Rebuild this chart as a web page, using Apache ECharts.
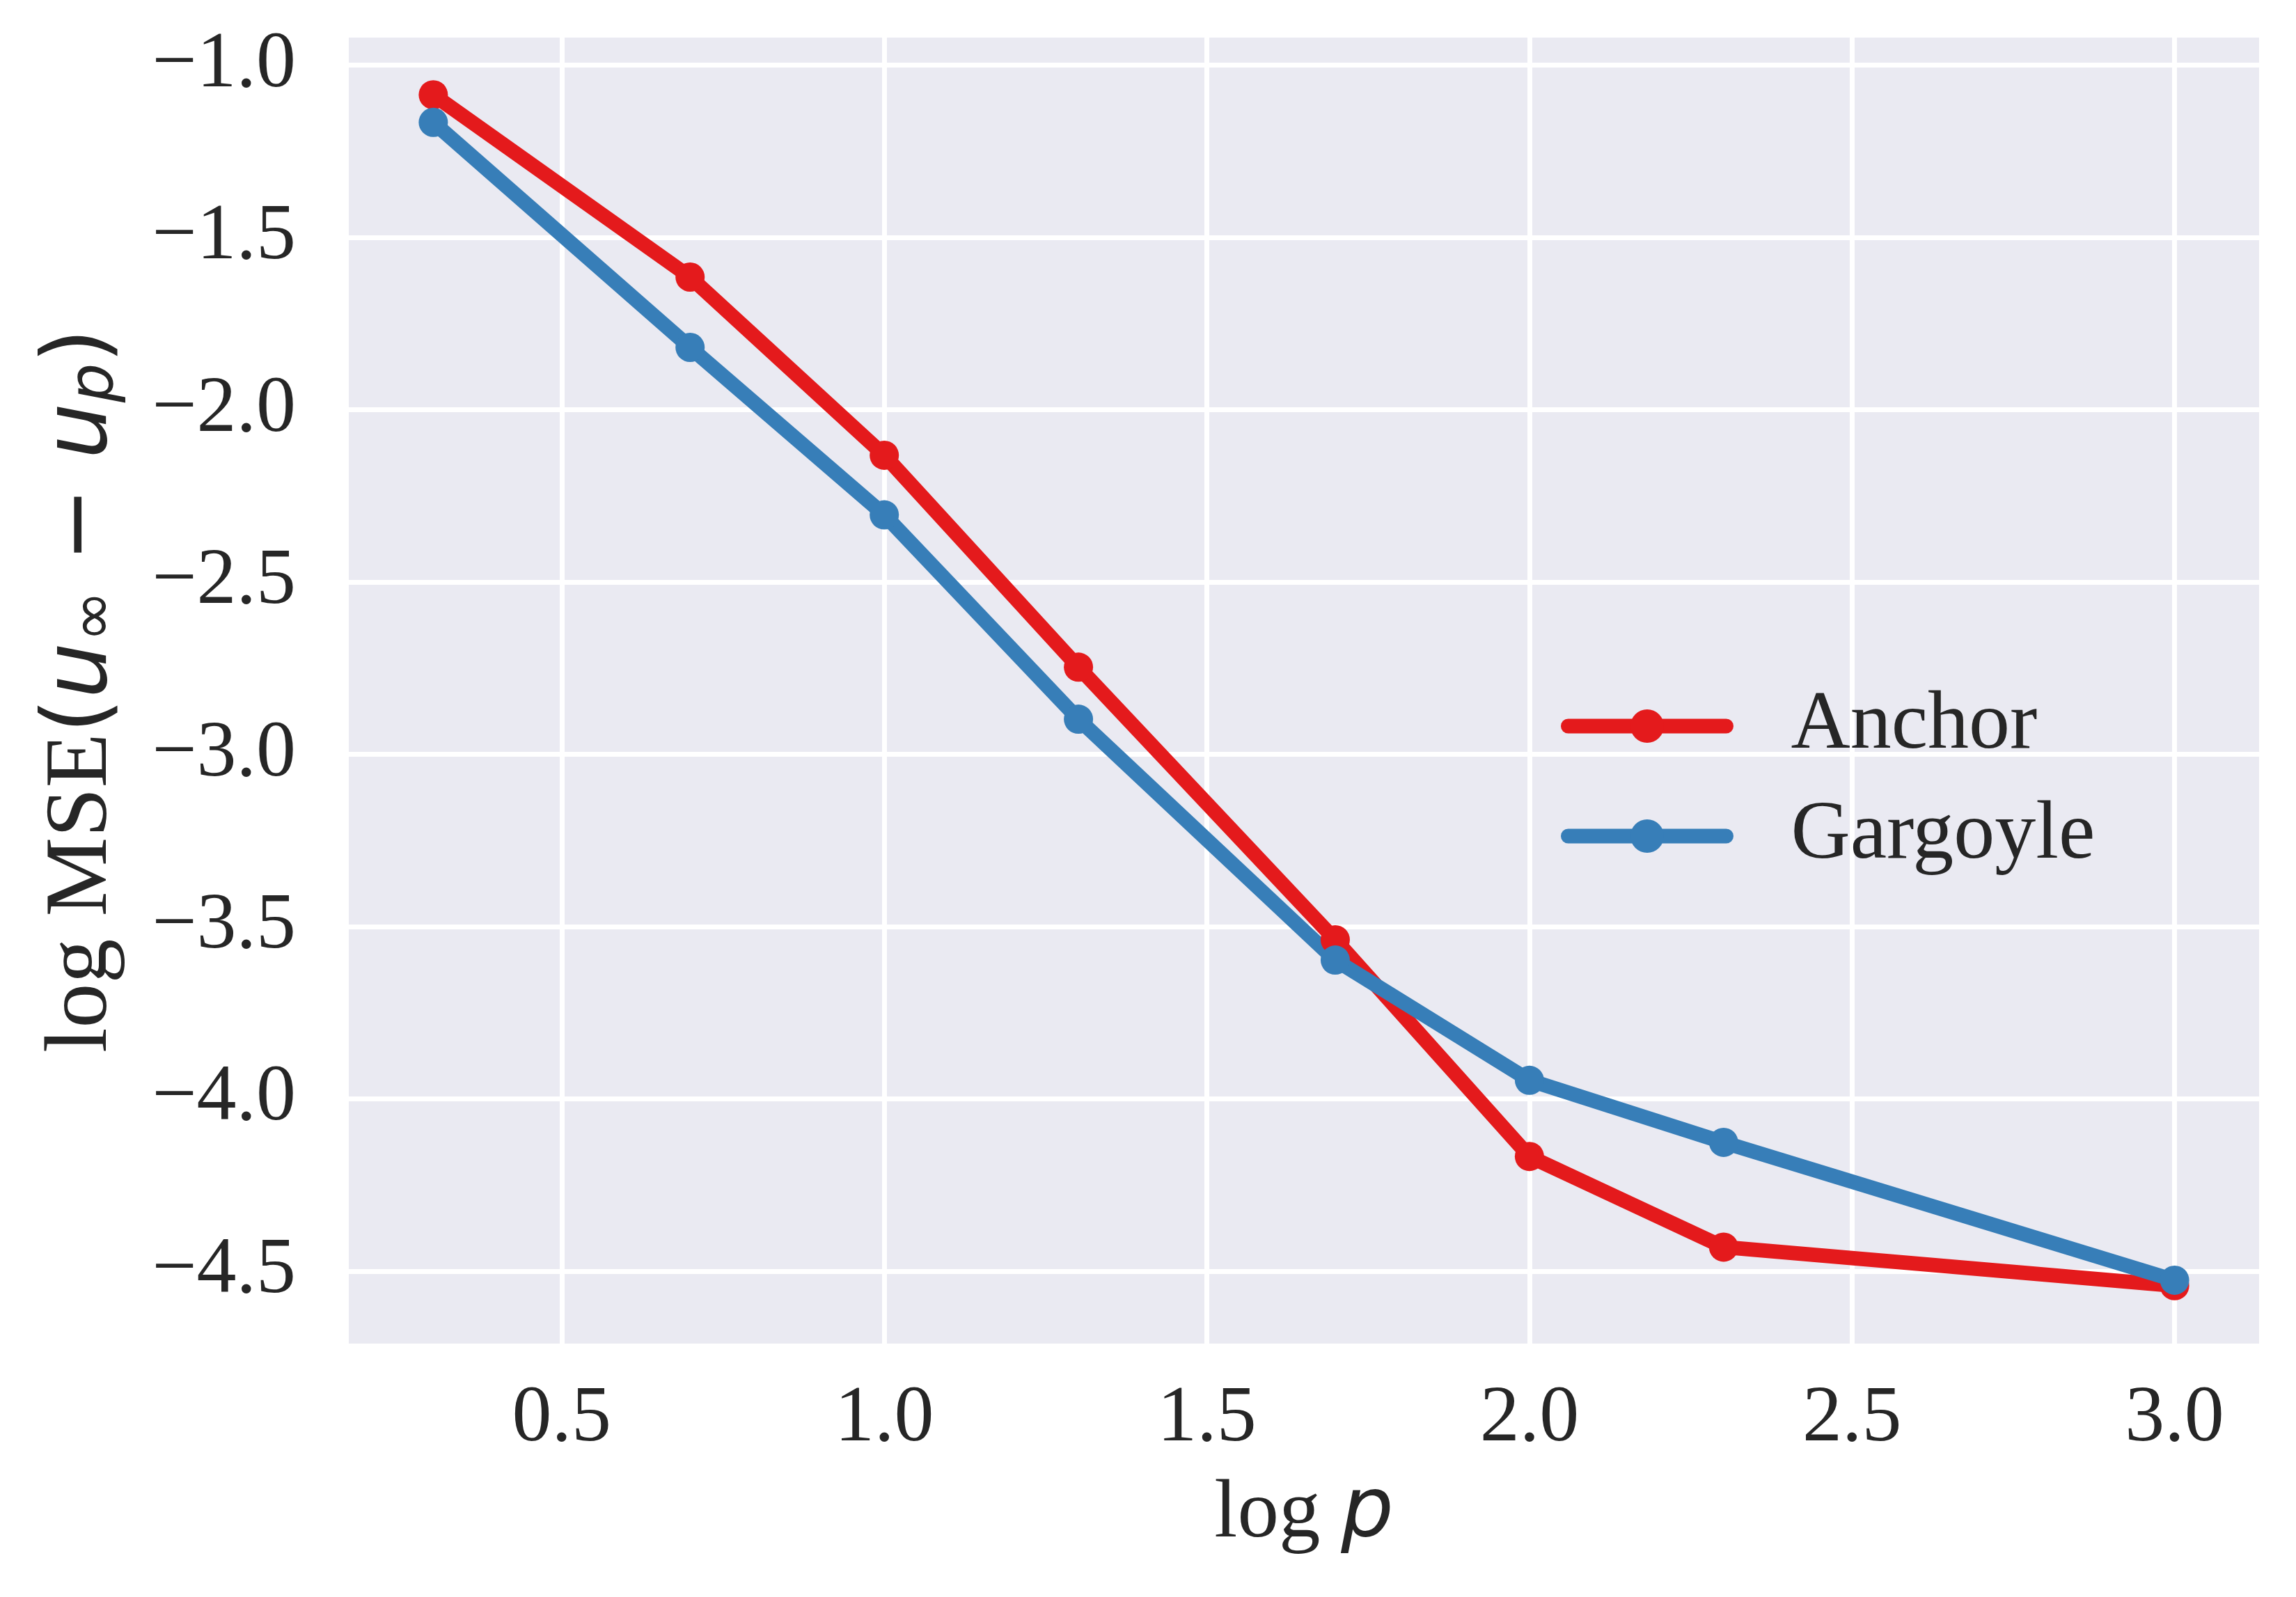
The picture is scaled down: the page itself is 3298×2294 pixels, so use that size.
<!DOCTYPE html>
<html>
<head>
<meta charset="utf-8">
<script src="https://cdn.jsdelivr.net/npm/echarts@6/dist/echarts.min.js"></script>
<style>
  html, body { margin: 0; padding: 0; background: #ffffff; }
  #chart { width: 3298px; height: 2294px; }
</style>
</head>
<body>
<div id="chart"></div>
<script>
// log p values (p = 2, 5, 10, 20, 50, 100, 200, 1000)
const logP = [0.301, 0.699, 1.0, 1.301, 1.699, 2.0, 2.301, 3.0];
const anchor = [-1.086, -1.615, -2.132, -2.747, -3.538, -4.167, -4.430, -4.542];
const gargoyle = [-1.166, -1.819, -2.305, -2.898, -3.597, -3.946, -4.126, -4.526];
const xTicks = [0.5, 1.0, 1.5, 2.0, 2.5, 3.0];
const yTicks = [-4.5, -4.0, -3.5, -3.0, -2.5, -2.0, -1.5, -1.0];

const textColor = '#262626';
const serif = 'Liberation Serif';
const mathFont = 'DejaVu Sans';

function pairs(xs, ys) {
    return xs.map((x, i) => [x, ys[i]]);
}

let chart = echarts.init(document.getElementById('chart'), null, { renderer: 'canvas' });

let option = {
    backgroundColor: '#ffffff',
    animation: false,
    grid: {
        left: 501,
        right: 53,
        top: 54,
        bottom: 364,
        show: true,
        backgroundColor: '#eaeaf2',
        borderWidth: 0
    },
    legend: {
        left: 2237,
        top: 979,
        orient: 'vertical',
        itemWidth: 227,
        itemHeight: 60,
        itemGap: 40,
        lineStyle: { width: 21, cap: 'round' },
        textStyle: {
            fontFamily: serif,
            fontSize: 118,
            color: textColor,
            padding: [0, 0, 0, 88]
        },
        data: ['Anchor', 'Gargoyle']
    },
    xAxis: {
        type: 'value',
        min: 0.17,
        max: 3.131,
        name: '{r|log }{i|p}',
        nameLocation: 'middle',
        nameGap: 186,
        nameTextStyle: {
            rich: {
                r: { fontFamily: serif, fontSize: 119, color: textColor },
                i: { fontFamily: mathFont, fontStyle: 'italic', fontSize: 119, color: textColor }
            }
        },
        axisLine: { show: false },
        axisTick: { show: false, customValues: xTicks },
        axisLabel: {
            customValues: xTicks,
            margin: 52,
            fontFamily: serif,
            fontSize: 114,
            color: textColor,
            formatter: v => v.toFixed(1)
        },
        splitLine: { show: true, lineStyle: { color: '#ffffff', width: 7 } }
    },
    yAxis: {
        type: 'value',
        min: -4.71,
        max: -0.92,
        name: '{r|log MSE}{m|(}{i|u}{s|∞}{m| − }{i|u}{s|p}{m|)}',
        nameLocation: 'middle',
        nameRotate: 90,
        nameGap: 318,
        nameTextStyle: {
            rich: {
                r: { fontFamily: serif, fontSize: 128, color: textColor },
                m: { fontFamily: mathFont, fontSize: 128, color: textColor },
                i: { fontFamily: mathFont, fontStyle: 'italic', fontSize: 128, color: textColor },
                s: { fontFamily: mathFont, fontStyle: 'italic', fontSize: 89, color: textColor, padding: [40, 0, 0, 0] }
            }
        },
        axisLine: { show: false },
        axisTick: { show: false, customValues: yTicks },
        axisLabel: {
            customValues: yTicks,
            margin: 76,
            fontFamily: serif,
            fontSize: 114,
            color: textColor,
            formatter: v => v.toFixed(1).replace('-', '\u2212')
        },
        splitLine: { show: true, lineStyle: { color: '#ffffff', width: 7 } }
    },
    series: [
        {
            name: 'Anchor',
            type: 'line',
            data: pairs(logP, anchor),
            symbol: 'circle',
            symbolSize: 42,
            color: '#e41a1c',
            lineStyle: { width: 21, color: '#e41a1c', cap: 'round', join: 'round' },
            itemStyle: { color: '#e41a1c' }
        },
        {
            name: 'Gargoyle',
            type: 'line',
            data: pairs(logP, gargoyle),
            symbol: 'circle',
            symbolSize: 42,
            color: '#377eb8',
            lineStyle: { width: 21, color: '#377eb8', cap: 'round', join: 'round' },
            itemStyle: { color: '#377eb8' }
        }
    ]
};

option && chart.setOption(option);
</script>
</body>
</html>
